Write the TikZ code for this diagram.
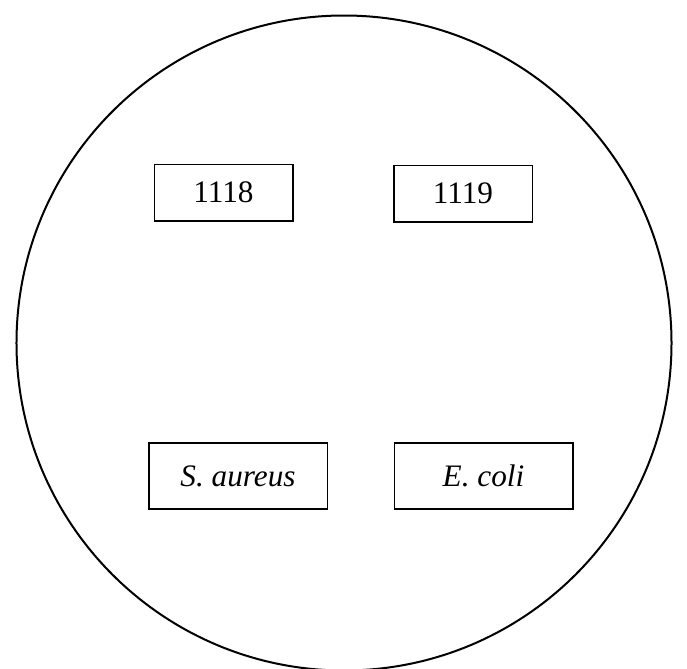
\documentclass[tikz,border=0pt]{standalone}
\usepackage{fontspec}
\setmainfont{Liberation Serif}
\usetikzlibrary{positioning}

\begin{document}
\begin{tikzpicture}[
  x=0.4pt, y=-0.4pt,
  plate/.style={circle, draw=black, line width=0.8pt, inner sep=0pt,
                minimum size=262pt},
  disc/.style={rectangle, draw=black, line width=0.6pt, inner sep=0pt,
               align=center, font=\fontsize{12.5}{14}\selectfont},
  small/.style={disc, minimum width=55.4pt, minimum height=22.6pt},
  wide/.style={disc, minimum width=71.4pt, minimum height=26.4pt}
]
\useasboundingbox (0,0) rectangle (687,668);

\node[plate] (dish) at (344,343) {};

\node[small] (d1118)  at (223.5,192.5) {1118};
\node[small] (d1119)  at (463,193.5)   {1119};
\node[wide]  (saur)   at (238,476)     {\textit{S. aureus}};
\node[wide]  (ecoli)  at (483.5,476)   {\textit{E. coli}};
\end{tikzpicture}
\end{document}
